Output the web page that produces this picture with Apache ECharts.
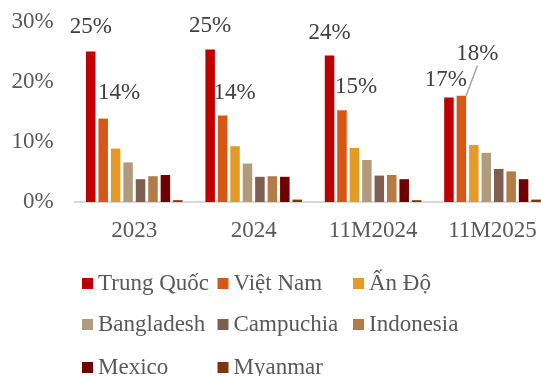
<!DOCTYPE html>
<html>
<head>
<meta charset="utf-8">
<script src="https://cdn.jsdelivr.net/npm/echarts@6/dist/echarts.min.js"></script>
<style>
html,body{margin:0;padding:0;background:#fff;}
#c{width:541px;height:376px;}
</style>
</head>
<body>
<div id="c"></div>
<script>
const categories = ['2023', '2024', '11M2024', '11M2025'];
const seriesNames = ['Trung Quốc', 'Việt Nam', 'Ấn Độ', 'Bangladesh', 'Campuchia', 'Indonesia', 'Mexico', 'Myanmar'];
const trungQuoc = [25.1, 25.4, 24.4, 17.4];
const vietNam = [13.9, 14.4, 15.3, 17.7];
const anDo = [8.9, 9.3, 9.0, 9.5];
const bangladesh = [6.6, 6.4, 7.0, 8.2];
const campuchia = [3.8, 4.2, 4.4, 5.5];
const indonesia = [4.3, 4.3, 4.5, 5.1];
const mexico = [4.5, 4.2, 3.8, 3.8];
const myanmar = [0.3, 0.4, 0.3, 0.4];
const yTicks = [0, 10, 20, 30];

const colors = ['#C00000', '#D65817', '#E39A27', '#B29B7C', '#7E5E50', '#B37B48', '#700000', '#7F3410'];
const allValues = [trungQuoc, vietNam, anDo, bangladesh, campuchia, indonesia, mexico, myanmar];
// label adjustments (layout only), per category
const labelShift = {
  0: [[0, -8], [0, -7], [0, -6], [-3, -1]],
  1: [[16, -9], [12, -6], [14, -7], [16, -25]]
};

const FONT = '"Liberation Serif", "Times New Roman", serif';

const series = allValues.map((vals, si) => ({
  name: seriesNames[si],
  type: 'bar',
  barWidth: 9.5,
  barGap: '31%',
  itemStyle: { color: colors[si] },
  data: vals.map((v, i) => (si === 1 && i === 3) ? { value: v, labelLine: { show: true } } : v),
  label: {
    show: si <= 1,
    position: 'top',
    distance: 5,
    fontFamily: FONT,
    fontSize: 23,
    color: '#404040',
    formatter: p => Math.round(p.value) + '%'
  },
  labelLine: { show: false, lineStyle: { color: '#A6A6A6', width: 1.5 }, smooth: false },
  labelLayout: si <= 1 ? (p => ({ dx: labelShift[si][p.dataIndex][0], dy: labelShift[si][p.dataIndex][1] })) : undefined,
  emphasis: { disabled: true }
}));

function legendRow(names, top) {
  return {
    data: names,
    left: 82,
    top: top,
    padding: 0,
    orient: 'horizontal',
    icon: 'rect',
    itemWidth: 11,
    itemHeight: 11,
    itemGap: 6.5,
    selectedMode: false,
    formatter: '{a|{name}}',
    textStyle: {
      rich: { a: { width: 113, fontFamily: FONT, fontSize: 23, color: '#595959', lineHeight: 26 } }
    }
  };
}

const chart = echarts.init(document.getElementById('c'), null, { renderer: 'canvas' });
chart.setOption({
  animation: false,
  color: colors,
  textStyle: { fontFamily: FONT },
  grid: { left: 74.6, top: 22, width: 477.6, height: 180, containLabel: false, outerBoundsMode: 'none' },
  legend: [
    legendRow(seriesNames.slice(0, 3), 272),
    legendRow(seriesNames.slice(3, 6), 313),
    legendRow(seriesNames.slice(6, 8), 356)
  ],
  xAxis: {
    type: 'category',
    data: categories,
    axisLine: { lineStyle: { color: '#D9D9D9', width: 2 } },
    axisTick: { show: false },
    axisLabel: { fontFamily: FONT, fontSize: 23, color: '#595959', margin: 17 }
  },
  yAxis: {
    type: 'value',
    min: yTicks[0],
    max: yTicks[yTicks.length - 1],
    interval: yTicks[1] - yTicks[0],
    axisLine: { show: false },
    axisTick: { show: false },
    splitLine: { show: false },
    axisLabel: { fontFamily: FONT, fontSize: 23, color: '#595959', margin: 21, formatter: v => v + '%' }
  },
  series: series
});
</script>
</body>
</html>
